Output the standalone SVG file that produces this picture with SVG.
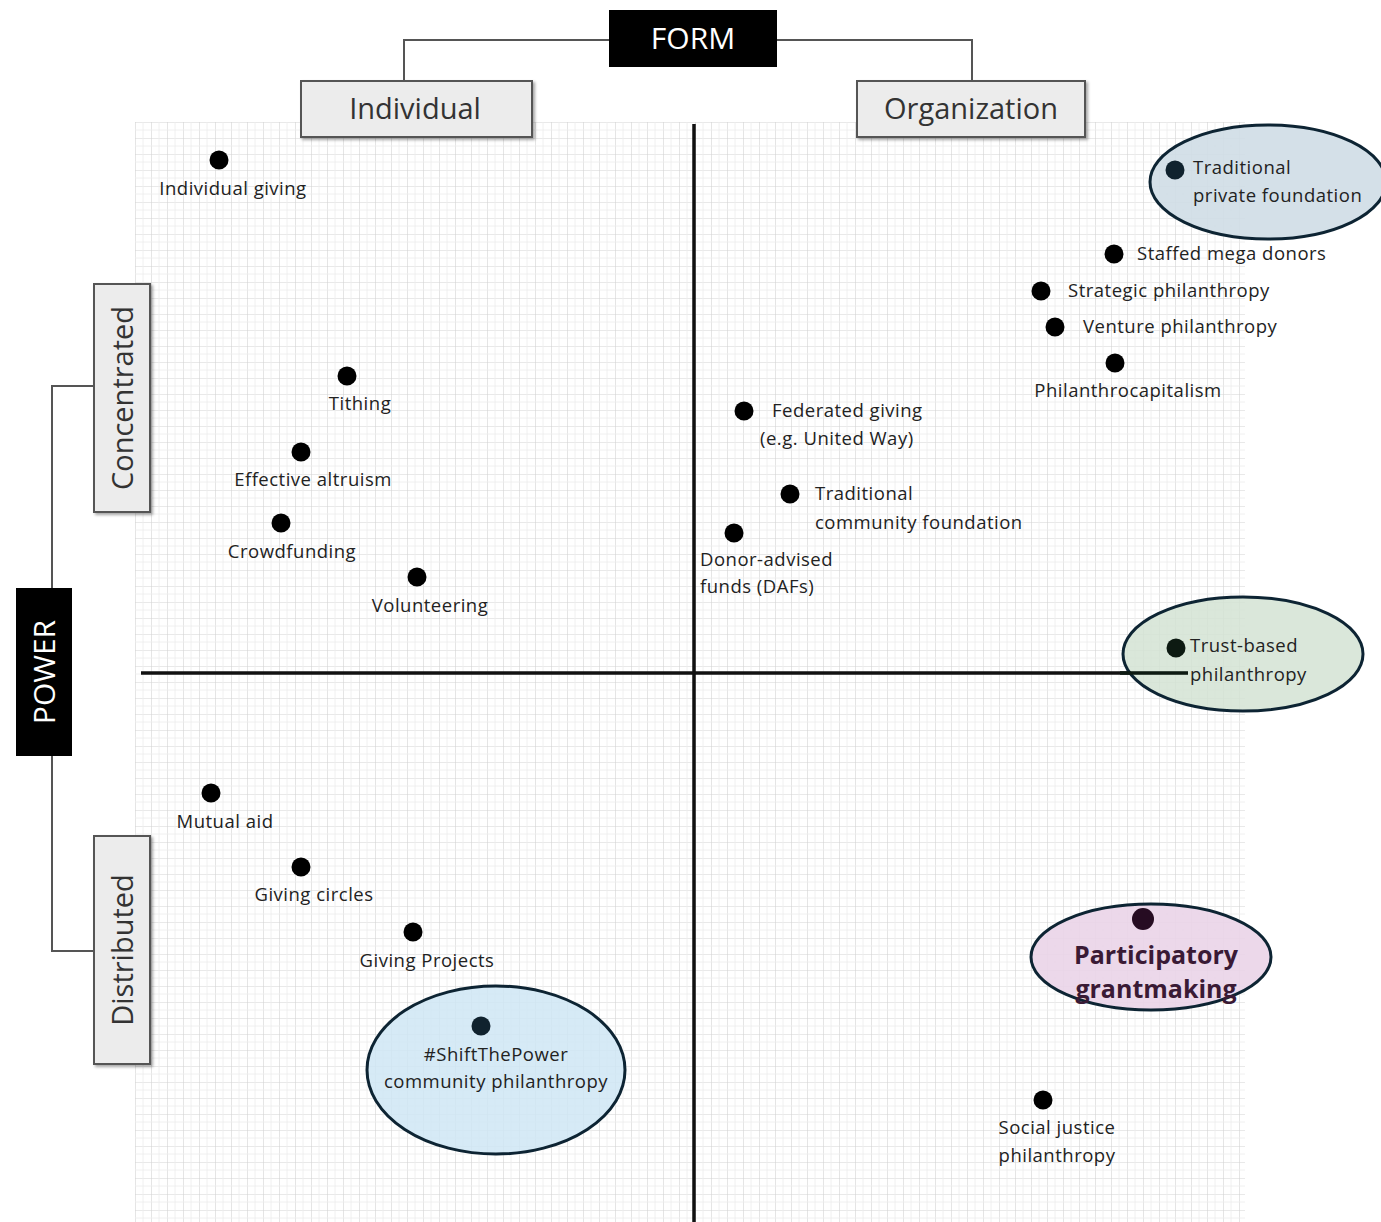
<svg xmlns="http://www.w3.org/2000/svg" width="1381" height="1222" viewBox="0 0 1381 1222">
<defs>
<pattern id="grid" x="135" y="122" width="16" height="16" patternUnits="userSpaceOnUse">
<path d="M0 0H16M0 0V16" stroke="#d4d4d4" stroke-width="1.2" fill="none"/>
<path d="M0 8H16M8 0V16" stroke="#ececec" stroke-width="0.8" fill="none"/>
</pattern>
<filter id="sh" x="-10%" y="-10%" width="130%" height="130%">
<feDropShadow dx="2" dy="2" stdDeviation="1.5" flood-color="#000" flood-opacity="0.35"/>
</filter>
</defs>
<style>
.lbl{font-family:"Open Sans","Noto Sans",sans-serif;font-size:18.5px;letter-spacing:0.5px;fill:#222}
.cat{font-family:"Open Sans","Noto Sans",sans-serif;font-size:29px;fill:#333}
.head{font-family:"Open Sans","Noto Sans",sans-serif;font-size:30px;fill:#fff}
.box{fill:#ececec;stroke:#555;stroke-width:2;filter:url(#sh)}
.blk{fill:#000}
.dot{fill:#000}
.conn{fill:none;stroke:#555;stroke-width:2}
.axis{stroke:#111;stroke-width:3.5}
.ell{stroke:#0d2433;stroke-width:3}
.pg{font-family:"Open Sans","Noto Sans",sans-serif;font-size:25px;font-weight:bold;fill:#3a1a35}
</style>
<rect width="1381" height="1222" fill="#fff"/>
<rect x="135" y="122" width="1110" height="1100" fill="url(#grid)"/>

<g id="connectors">
<path class="conn" d="M609 40H404V81"/>
<path class="conn" d="M777 40H972V81"/>
<path class="conn" d="M52 588V386H94"/>
<path class="conn" d="M52 756V951H94"/>
<line class="axis" x1="694" y1="124" x2="694" y2="1222"/>
<line class="axis" x1="141" y1="673" x2="1188" y2="673"/>
</g>

<g id="form"><rect class="blk" x="609" y="10" width="168" height="57"/><text class="head" x="693" y="49" text-anchor="middle">FORM</text></g>
<g id="individual"><rect class="box" x="301" y="81" width="231" height="56"/><text class="cat" x="415" y="119" text-anchor="middle">Individual</text></g>
<g id="organization"><rect class="box" x="857" y="81" width="228" height="56"/><text class="cat" x="971" y="119" text-anchor="middle">Organization</text></g>
<g id="power"><rect class="blk" x="16" y="588" width="56" height="168"/><text class="head" transform="translate(55 672) rotate(-90)" text-anchor="middle">POWER</text></g>
<g id="concentrated"><rect class="box" x="94" y="284" width="56" height="228"/><text class="cat" transform="translate(133 398) rotate(-90)" text-anchor="middle">Concentrated</text></g>
<g id="distributed"><rect class="box" x="94" y="836" width="56" height="228"/><text class="cat" transform="translate(133 950) rotate(-90)" text-anchor="middle">Distributed</text></g>

<g id="individual-giving"><circle class="dot" cx="219" cy="160" r="9.5"/><text class="lbl" x="233" y="195" text-anchor="middle">Individual  giving</text></g>
<g id="tithing"><circle class="dot" cx="347" cy="376" r="9.5"/><text class="lbl" x="360" y="410" text-anchor="middle">Tithing</text></g>
<g id="effective-altruism"><circle class="dot" cx="301" cy="452" r="9.5"/><text class="lbl" x="313" y="486" text-anchor="middle">Effective altruism</text></g>
<g id="crowdfunding"><circle class="dot" cx="281" cy="523" r="9.5"/><text class="lbl" x="292" y="558" text-anchor="middle">Crowdfunding</text></g>
<g id="volunteering"><circle class="dot" cx="417" cy="577" r="9.5"/><text class="lbl" x="430" y="612" text-anchor="middle">Volunteering</text></g>
<g id="mutual-aid"><circle class="dot" cx="211" cy="793" r="9.5"/><text class="lbl" x="225" y="828" text-anchor="middle">Mutual  aid</text></g>
<g id="giving-circles"><circle class="dot" cx="301" cy="867" r="9.5"/><text class="lbl" x="314" y="901" text-anchor="middle">Giving  circles</text></g>
<g id="giving-projects"><circle class="dot" cx="413" cy="932" r="9.5"/><text class="lbl" x="427" y="967" text-anchor="middle">Giving  Projects</text></g>
<g id="shift-the-power"><ellipse class="ell" cx="496" cy="1070" rx="129" ry="84" fill="#cfe6f4" fill-opacity="0.85"/><circle cx="481" cy="1026" r="9.5" fill="#10222e"/><text class="lbl" x="496" y="1061" text-anchor="middle" fill="#333">#ShiftThePower</text><text class="lbl" x="496" y="1088" text-anchor="middle">community  philanthropy</text></g>

<g id="federated-giving"><circle class="dot" cx="744" cy="411" r="9.5"/><text class="lbl" x="772" y="417">Federated giving</text><text class="lbl" x="760" y="445">(e.g. United Way)</text></g>
<g id="community-foundation"><circle class="dot" cx="790" cy="494" r="9.5"/><text class="lbl" x="815" y="500">Traditional</text><text class="lbl" x="815" y="529">community  foundation</text></g>
<g id="dafs"><circle class="dot" cx="734" cy="533" r="9.5"/><text class="lbl" x="700" y="566">Donor-advised</text><text class="lbl" x="700" y="593">funds (DAFs)</text></g>
<g id="private-foundation"><ellipse class="ell" cx="1268" cy="182" rx="118" ry="57" fill="#cfdde6" fill-opacity="0.9"/><circle cx="1175" cy="170" r="9.5" fill="#10222e"/><text class="lbl" x="1193" y="174" fill="#333">Traditional</text><text class="lbl" x="1193" y="202" fill="#333">private foundation</text></g>
<g id="staffed-mega-donors"><circle class="dot" cx="1114" cy="254" r="9.5"/><text class="lbl" x="1137" y="260">Staffed mega donors</text></g>
<g id="strategic-philanthropy"><circle class="dot" cx="1041" cy="291" r="9.5"/><text class="lbl" x="1068" y="297">Strategic philanthropy</text></g>
<g id="venture-philanthropy"><circle class="dot" cx="1055" cy="327" r="9.5"/><text class="lbl" x="1083" y="333">Venture philanthropy</text></g>
<g id="philanthrocapitalism"><circle class="dot" cx="1115" cy="363" r="9.5"/><text class="lbl" x="1128" y="397" text-anchor="middle">Philanthrocapitalism</text></g>
<g id="trust-based"><ellipse class="ell" cx="1243" cy="654" rx="120" ry="57" fill="#d3e3d3" fill-opacity="0.85"/><line x1="1120" y1="673" x2="1188" y2="673" stroke="#0d1a12" stroke-width="3.5"/><circle cx="1176" cy="648" r="9.5" fill="#0d1a12"/><text class="lbl" x="1190" y="652">Trust-based</text><text class="lbl" x="1190" y="681">philanthropy</text></g>
<g id="participatory"><ellipse class="ell" cx="1151" cy="957" rx="120" ry="53" fill="#ead4e8" fill-opacity="0.9"/><circle cx="1143" cy="919" r="11" fill="#260c22"/><text class="pg" x="1156" y="964" text-anchor="middle">Participatory</text><text class="pg" x="1156" y="998" text-anchor="middle">grantmaking</text></g>
<g id="social-justice"><circle class="dot" cx="1043" cy="1100" r="9.5"/><text class="lbl" x="1057" y="1134" text-anchor="middle">Social justice</text><text class="lbl" x="1057" y="1162" text-anchor="middle">philanthropy</text></g>
</svg>
